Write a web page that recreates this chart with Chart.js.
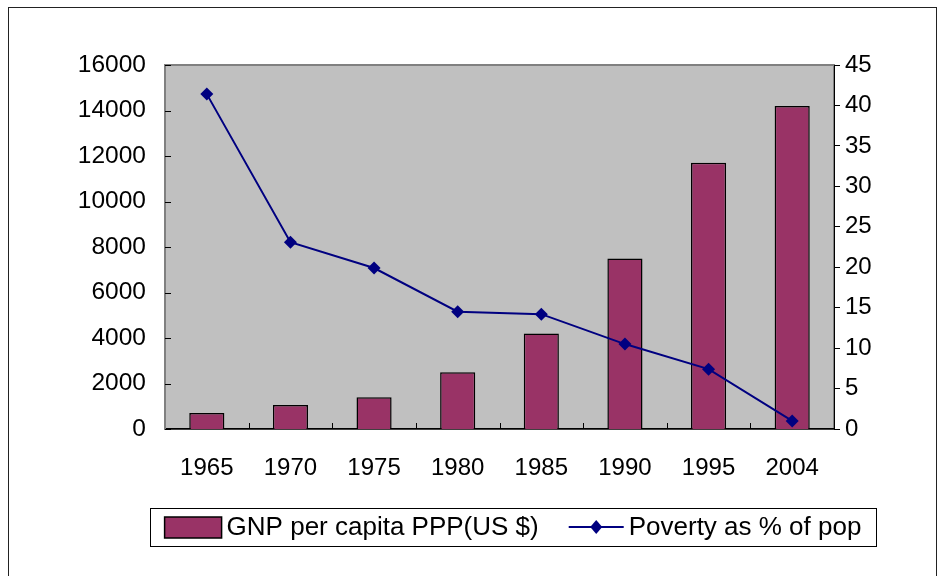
<!DOCTYPE html>
<html>
<head>
<meta charset="utf-8">
<script src="https://cdn.jsdelivr.net/npm/chart.js@4/dist/chart.umd.min.js"></script>
<style>
  html, body { margin: 0; padding: 0; background: #fff; }
  #wrap { width: 938px; height: 576px; }
</style>
</head>
<body>
<div id="wrap"><canvas id="chart" width="938" height="576"></canvas></div>
<script>
// Data
const years = ['1965', '1970', '1975', '1980', '1985', '1990', '1995', '2004'];
const gnpPerCapita = [700, 1050, 1400, 2500, 4200, 7500, 11700, 14200];
const povertyPct = [41.4, 23.1, 19.9, 14.5, 14.2, 10.5, 7.4, 1.0];
const seriesNames = ['GNP per capita PPP(US $)', 'Poverty as % of pop'];

const FONT = '"Liberation Sans", Arial, sans-serif';
const BAR_COLOR = '#993366';
const LINE_COLOR = '#000080';

// background, outer frame, plot area, inside ticks, legend
const excelLook = {
  id: 'excelLook',
  beforeDraw(chart) {
    const ctx = chart.ctx;
    const a = chart.chartArea;
    ctx.save();
    ctx.fillStyle = '#fff';
    ctx.fillRect(0, 0, chart.width, chart.height);
    ctx.strokeStyle = '#222';
    ctx.lineWidth = 1;
    ctx.strokeRect(8.5, 7.5, 928, 620);
    ctx.fillStyle = '#C0C0C0';
    ctx.fillRect(a.left, a.top, a.right - a.left, a.bottom - a.top);
    ctx.strokeStyle = '#808080';
    ctx.lineWidth = 2;
    ctx.strokeRect(a.left, a.top, a.right - a.left, a.bottom - a.top);
    ctx.restore();
  },
  afterDraw(chart) {
    const ctx = chart.ctx;
    const a = chart.chartArea;
    const yL = chart.scales.y;
    const x = chart.scales.x;
    ctx.save();
    ctx.strokeStyle = '#000';
    ctx.lineWidth = 1;
    // left axis ticks, pointing inward
    yL.ticks.forEach(t => {
      const py = Math.round(yL.getPixelForValue(t.value)) + 0.5;
      ctx.beginPath();
      ctx.moveTo(a.left, py);
      ctx.lineTo(a.left + 6, py);
      ctx.stroke();
    });
    // category ticks between groups, pointing up
    for (let i = 1; i < years.length; i++) {
      const px = Math.round((x.getPixelForTick(i - 1) + x.getPixelForTick(i)) / 2) + 0.5;
      ctx.beginPath();
      ctx.moveTo(px, a.bottom);
      ctx.lineTo(px, a.bottom - 6);
      ctx.stroke();
    }

    // legend
    ctx.font = '26px ' + FONT;
    ctx.textBaseline = 'middle';
    ctx.fillStyle = '#000';
    const w1 = ctx.measureText(seriesNames[0]).width;
    const w2 = ctx.measureText(seriesNames[1]).width;
    const sw = 57, gap = 5, between = 30, lw = 55;
    const total = sw + gap + w1 + between + lw + gap + w2;
    const boxL = 150, boxR = 876, cy = 527;
    let lx = (boxL + boxR) / 2 - total / 2;
    ctx.strokeStyle = '#000';
    ctx.strokeRect(boxL + 0.5, 508.5, boxR - boxL, 38);

    ctx.fillStyle = BAR_COLOR;
    ctx.fillRect(lx, cy - 10, sw, 21);
    ctx.lineWidth = 1.5;
    ctx.strokeRect(lx, cy - 10, sw, 21);
    ctx.fillStyle = '#000';
    ctx.fillText(seriesNames[0], lx + sw + gap, cy + 1);

    lx += sw + gap + w1 + between;
    ctx.strokeStyle = LINE_COLOR;
    ctx.lineWidth = 2;
    ctx.beginPath();
    ctx.moveTo(lx, cy);
    ctx.lineTo(lx + lw, cy);
    ctx.stroke();
    const dx = lx + lw / 2;
    ctx.fillStyle = LINE_COLOR;
    ctx.beginPath();
    ctx.moveTo(dx, cy - 7);
    ctx.lineTo(dx + 6, cy);
    ctx.lineTo(dx, cy + 7);
    ctx.lineTo(dx - 6, cy);
    ctx.closePath();
    ctx.fill();
    ctx.fillStyle = '#000';
    ctx.fillText(seriesNames[1], lx + lw + gap, cy + 1);
    ctx.restore();
  }
};

new Chart(document.getElementById('chart').getContext('2d'), {
  type: 'bar',
  data: {
    labels: years,
    datasets: [
      {
        type: 'line',
        label: seriesNames[1],
        data: povertyPct,
        yAxisID: 'y2',
        borderColor: LINE_COLOR,
        backgroundColor: LINE_COLOR,
        borderWidth: 2,
        pointStyle: 'rectRot',
        pointRadius: 6.5,
        pointBorderWidth: 0,
        tension: 0,
        order: 0
      },
      {
        type: 'bar',
        label: seriesNames[0],
        data: gnpPerCapita,
        yAxisID: 'y',
        backgroundColor: BAR_COLOR,
        borderColor: '#000',
        borderWidth: 1.5,
        categoryPercentage: 1,
        barPercentage: 0.42,
        order: 1
      }
    ]
  },
  options: {
    responsive: false,
    animation: false,
    layout: { padding: { top: 65, left: 0, right: 0, bottom: 0 } },
    plugins: {
      legend: { display: false },
      tooltip: { enabled: false }
    },
    scales: {
      x: {
        grid: { display: false },
        border: { display: true, color: '#000', width: 1.5 },
        ticks: { color: '#000', font: { family: FONT, size: 24 }, padding: 17, maxRotation: 0 },
        afterFit(scale) { scale.height = 147; }
      },
      y: {
        position: 'left',
        min: 0,
        max: 16000,
        grid: { display: false },
        border: { display: true, color: '#808080', width: 2 },
        ticks: {
          stepSize: 2000, color: '#000', font: { family: FONT, size: 24.5 }, padding: 11,
          callback: v => String(v)
        },
        afterFit(scale) { scale.width = 165; }
      },
      y2: {
        position: 'right',
        min: 0,
        max: 45,
        grid: { drawOnChartArea: false, drawTicks: true, tickLength: 6, color: '#000' },
        border: { display: true, color: '#000', width: 1 },
        ticks: { stepSize: 5, color: '#000', font: { family: FONT, size: 24 }, padding: 5 },
        afterFit(scale) { scale.width = 104; }
      }
    }
  },
  plugins: [excelLook]
});
</script>
</body>
</html>
